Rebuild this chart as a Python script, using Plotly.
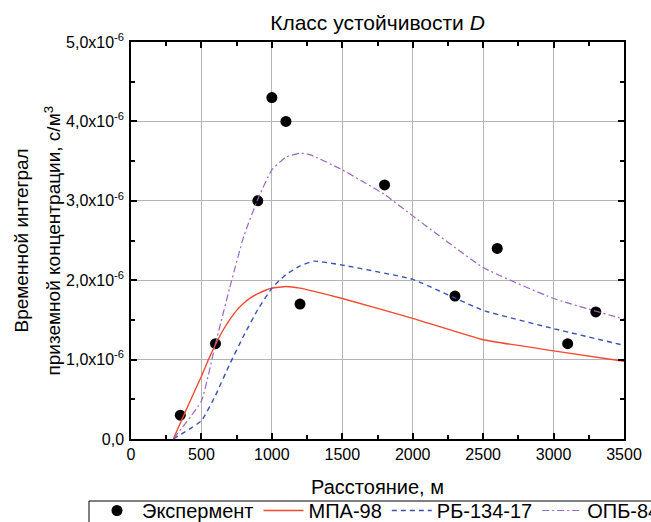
import plotly.graph_objects as go

# Experimental data
exp_x = [350, 600, 900, 1000, 1100, 1200, 1800, 2300, 2600, 3100, 3300]
exp_y = [0.30e-6, 1.20e-6, 3.00e-6, 4.30e-6, 4.00e-6, 1.70e-6, 3.20e-6, 1.80e-6, 2.40e-6, 1.20e-6, 1.60e-6]

# МПА-98
mpa_x = [300, 400, 500, 550, 600, 650, 700, 750, 800, 850, 900, 950, 1000, 1100, 1200, 1300, 1500, 2000, 2500, 3000, 3500]
mpa_y = [0.0, 0.40e-6, 0.79e-6, 1.00e-6, 1.19e-6, 1.36e-6, 1.50e-6, 1.62e-6, 1.71e-6, 1.78e-6, 1.83e-6, 1.87e-6, 1.90e-6,
         1.92e-6, 1.90e-6, 1.86e-6, 1.77e-6, 1.52e-6, 1.25e-6, 1.11e-6, 0.98e-6]

# РБ-134-17
rb_x = [300, 500, 600, 700, 800, 900, 1000, 1100, 1200, 1300, 1500, 2000, 2500, 3000, 3500]
rb_y = [0.0, 0.23e-6, 0.55e-6, 0.94e-6, 1.30e-6, 1.63e-6, 1.90e-6, 2.07e-6, 2.18e-6, 2.24e-6, 2.19e-6, 2.01e-6, 1.62e-6, 1.39e-6, 1.18e-6]

# ОПБ-84
opb_x = [300, 500, 600, 700, 800, 900, 1000, 1100, 1200, 1250, 1300, 1500, 1800, 2000, 2500, 3000, 3500]
opb_y = [0.0, 0.48e-6, 1.20e-6, 1.90e-6, 2.55e-6, 3.02e-6, 3.39e-6, 3.55e-6, 3.60e-6, 3.59e-6, 3.56e-6, 3.39e-6, 3.08e-6, 2.81e-6, 2.16e-6, 1.77e-6, 1.51e-6]

x_ticks = [0, 500, 1000, 1500, 2000, 2500, 3000, 3500]
y_ticks = [0, 1e-6, 2e-6, 3e-6, 4e-6, 5e-6]
y_ticktext = ["0,0", "1,0x10<sup>-6</sup>", "2,0x10<sup>-6</sup>", "3,0x10<sup>-6</sup>",
              "4,0x10<sup>-6</sup>", "5,0x10<sup>-6</sup>"]
y_title_lines = ["Временной интеграл", "приземной концентрации, с/м<sup>3</sup>"]

FONT = "Liberation Sans, Arial, sans-serif"

# plot area in pixels
L, R, T, B = 131, 624, 42, 439
def px_x(p):
    return (p - L) / (R - L)
def px_y(p):
    return (B - p) / (B - T)

fig = go.Figure()
fig.add_trace(go.Scatter(x=exp_x, y=exp_y, mode="markers", name="Экспермент",
                         marker=dict(color="black", size=11)))
fig.add_trace(go.Scatter(x=mpa_x, y=mpa_y, mode="lines", name="МПА-98",
                         line=dict(color="#f24a2e", width=1.4, shape="spline", smoothing=0.3)))
fig.add_trace(go.Scatter(x=rb_x, y=rb_y, mode="lines", name="РБ-134-17",
                         line=dict(color="#3552b0", width=1.4, dash="5px,4px", shape="spline", smoothing=0.4)))
fig.add_trace(go.Scatter(x=opb_x, y=opb_y, mode="lines", name="ОПБ-84",
                         line=dict(color="#9a66c2", width=1.2, dash="7px,3px,2px,3px", shape="spline", smoothing=0.4)))

axis_common = dict(showline=True, linecolor="black", linewidth=1.5, mirror="ticks",
                   ticks="inside", ticklen=6, tickwidth=1.5, tickcolor="black",
                   showgrid=True, gridcolor="#b4b4b4", gridwidth=1, zeroline=False,
                   tickfont=dict(family=FONT, size=16, color="black"))

fig.update_xaxes(range=[0, 3500], tickvals=x_ticks, ticktext=[str(v) for v in x_ticks],
                 title=dict(text="Расстояние, м", font=dict(family=FONT, size=20, color="black"), standoff=18),
                 minor=dict(ticks="inside", ticklen=4, tickcolor="black", dtick=250, tick0=0, showgrid=False),
                 **axis_common)
fig.update_yaxes(range=[0, 5e-6], tickvals=y_ticks, ticktext=y_ticktext, ticklabelstandoff=2,
                 minor=dict(ticks="inside", ticklen=4, tickcolor="black", dtick=0.5e-6, tick0=0, showgrid=False),
                 **axis_common)

for txt, xpx in zip(y_title_lines, [21, 52]):
    fig.add_annotation(text=txt, xref="paper", yref="paper", x=px_x(xpx), y=0.5,
                       xanchor="center", yanchor="middle", textangle=-90, showarrow=False,
                       font=dict(family=FONT, size=19, color="black"))

# legend frame (legend box runs off the bottom/right edge as in the reference)
fig.add_shape(type="rect", xref="paper", yref="paper", x0=px_x(89), x1=px_x(700),
              y0=px_y(540), y1=px_y(501), line=dict(color="black", width=1), fillcolor="rgba(0,0,0,0)")

fig.update_layout(
    width=651, height=522,
    margin=dict(l=L, r=651 - R, t=T, b=522 - B, autoexpand=False),
    paper_bgcolor="white", plot_bgcolor="white",
    title=dict(text="Класс устойчивости <i>D</i>", x=0.5, xref="paper", xanchor="center",
               y=1 - 23 / 522, yanchor="middle", font=dict(family=FONT, size=21, color="black")),
    font=dict(family=FONT, color="black"),
    showlegend=True,
    legend=dict(orientation="h", x=px_x(92), xanchor="left", y=px_y(491), yanchor="top",
                borderwidth=0, bgcolor="rgba(0,0,0,0)",
                font=dict(family=FONT, size=20, color="black"), itemwidth=40, tracegroupgap=0),
)

fig.write_html("out.html")
